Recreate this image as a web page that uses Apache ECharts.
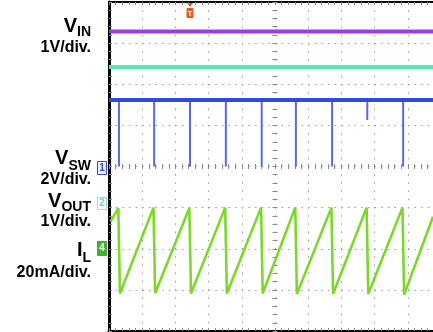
<!DOCTYPE html>
<html><head><meta charset="utf-8">
<script src="https://cdn.jsdelivr.net/npm/echarts@6/dist/echarts.min.js"></script>
<style>html,body{margin:0;padding:0;background:#fff}#c{width:433px;height:332px}</style>
</head><body><div id="c"></div>
<script>
// Time in divisions (0 = screen centre), amplitude in divisions (0 = centre line)
const xMin = -5, xMax = 4.76;
const yMin = -4, yMax = 4;
const vinLevel = 3.28;
const voutLevel = 2.42;
const vswHigh = 1.62;
const vswSpikeTimes = [-4.70, -3.64, -2.56, -1.48, -0.40, 0.63, 1.72, 2.78, 3.86];
const vswSpikeLows  = [0, 0, 0, 0, 0, 0, 0, 1.13, 0];
const ilStart = [-4.95, -1.34];
const ilPeakTimes   = [-4.72, -3.66, -2.58, -1.50, -0.42, 0.61, 1.70, 2.76, 3.84];
const ilTroughTimes = [-4.67, -3.61, -2.53, -1.45, -0.37, 0.66, 1.75, 2.81, 3.89];
const ilPeaks   = [-1.01, -1.00, -1.01, -1.00, -1.00, -1.00, -1.00, -1.00, -1.00];
const ilTroughs = [-3.09, -3.08, -3.09, -3.09, -3.09, -3.10, -3.10, -3.10, -3.12];
const ilEnd = [4.76, -1.22];

const channelMain = ['V', 'V', 'V', 'I'];
const channelSub = ['IN', 'SW', 'OUT', 'L'];
const channelScale = ['1V/div.', '2V/div.', '1V/div.', '20mA/div.'];
const markerLabels = ['1', '2', '4'];
const triggerLabel = 'T';

// build series data
const vswSpikeData = [];
vswSpikeTimes.forEach((t, i) => {
  vswSpikeData.push([t, vswHigh], [t, vswSpikeLows[i]], [t, vswHigh]);
});
const ilData = [ilStart];
ilPeakTimes.forEach((t, i) => {
  ilData.push([t, ilPeaks[i]], [ilTroughTimes[i], ilTroughs[i]]);
});
ilData.push(ilEnd);

const chart = echarts.init(document.getElementById('c'), null, {renderer: 'canvas'});

const FONT = 'Liberation Sans, Arial, sans-serif';
const cv = document.createElement('canvas').getContext('2d');
function tw(s, size) { cv.font = 'bold ' + size + 'px ' + FONT; return cv.measureText(s).width; }
function topFromBaseline(b, size) { return b - size * 0.85; }

const labelRight = 91;
const mainBase = [33, 165, 208, 257];
const subDrop = [4, 6, 4, 6];
const scaleBase = [53, 185, 227, 278];
const graphics = [];
for (let i = 0; i < 4; i++) {
  const sw = tw(channelSub[i], 14);
  graphics.push({type: 'text', x: labelRight - sw, y: topFromBaseline(mainBase[i], 20),
    style: {text: channelMain[i], font: 'bold 20px ' + FONT, fill: '#000', align: 'right', verticalAlign: 'top'}});
  graphics.push({type: 'text', x: labelRight, y: topFromBaseline(mainBase[i] + subDrop[i], 14),
    style: {text: channelSub[i], font: 'bold 14px ' + FONT, fill: '#000', align: 'right', verticalAlign: 'top'}});
  graphics.push({type: 'text', x: labelRight, y: topFromBaseline(scaleBase[i], 16),
    style: {text: channelScale[i], font: 'bold 16px ' + FONT, fill: '#000', align: 'right', verticalAlign: 'top'}});
}
// channel ground markers
const mk = [
  {y: 161, h: 13, stroke: '#3b4cc8', fill: '#eef0ff', color: '#3b4cc8'},
  {y: 197, h: 12, stroke: '#8fe3d6', fill: '#ffffff', color: '#6fcfc0'},
  {y: 241, h: 14, stroke: '#3cb52c', fill: '#3cb52c', color: '#ffffff'}
];
mk.forEach((m, i) => {
  graphics.push({type: 'rect', shape: {x: 97.5, y: m.y + 0.5, width: 9, height: m.h},
    style: {fill: m.fill, stroke: m.stroke, lineWidth: 1}});
  graphics.push({type: 'text', x: 102, y: m.y + 0.5 + m.h / 2,
    style: {text: markerLabels[i], font: 'bold 10px ' + FONT, fill: m.color, align: 'center', verticalAlign: 'middle'}});
});
// trigger marker
graphics.push({type: 'polygon', shape: {points: [[187, 3], [193, 3], [190, 7]]}, style: {fill: '#e8581c'}});
graphics.push({type: 'rect', shape: {x: 186.5, y: 8, width: 7, height: 10, r: 1}, style: {fill: '#e8581c'}});
graphics.push({type: 'text', x: 190, y: 13.5,
  style: {text: triggerLabel, font: 'bold 8px ' + FONT, fill: '#fff', align: 'center', verticalAlign: 'middle'}});

const tickStyle = {color: '#8a8a8a', width: 1};
function frameX(pos, lw) {
  return {type: 'value', min: xMin, max: xMax, interval: 1, position: pos,
    axisLine: {show: true, onZero: false, lineStyle: {color: '#000', width: lw}},
    axisTick: {show: true, inside: true, length: 3, lineStyle: tickStyle},
    minorTick: {show: true, splitNumber: 5, length: 3, lineStyle: tickStyle},
    axisLabel: {show: false}, splitLine: {show: false}};
}
function centreX(pos) {
  return {type: 'value', min: xMin, max: xMax, interval: 1, position: pos,
    axisLine: {show: false, onZero: true, onZeroAxisIndex: 0},
    axisTick: {show: true, inside: true, length: 2.5, lineStyle: tickStyle},
    minorTick: {show: true, splitNumber: 5, length: 2.5, lineStyle: tickStyle},
    axisLabel: {show: false}, splitLine: {show: false}};
}
function centreY(pos) {
  return {type: 'value', min: yMin, max: yMax, interval: 1, position: pos,
    axisLine: {show: false, onZero: true, onZeroAxisIndex: 0},
    axisTick: {show: true, inside: true, length: 2.5, lineStyle: tickStyle},
    minorTick: {show: true, splitNumber: 5, length: 2.5, lineStyle: tickStyle},
    axisLabel: {show: false}, splitLine: {show: false}};
}
const xMain = frameX('bottom', 3);
xMain.splitLine = {show: true, lineStyle: {color: '#9a9a9a', width: 1, type: [1.5, 6.7]}};
const yMain = {type: 'value', min: yMin, max: yMax, interval: 1, position: 'left',
  axisLine: {show: true, onZero: false, lineStyle: {color: '#000', width: 3}},
  axisTick: {show: true, inside: true, length: 3, lineStyle: tickStyle},
  minorTick: {show: true, splitNumber: 5, length: 3, lineStyle: tickStyle},
  axisLabel: {show: false},
  splitLine: {show: true, lineStyle: {color: '#9a9a9a', width: 1, type: [1.5, 5.14]}}};

function line(name, data, color, width, z) {
  return {name, type: 'line', data, xAxisIndex: 0, yAxisIndex: 0, symbol: 'none', silent: true,
    animation: false, z: z, lineStyle: {color, width}, itemStyle: {color}};
}

chart.setOption({
  animation: false,
  backgroundColor: '#ffffff',
  grid: {left: 109, right: 0, top: 2, bottom: 1, show: false},
  xAxis: [xMain, frameX('top', 2), centreX('bottom'), centreX('top')],
  yAxis: [yMain, centreY('left'), centreY('right')],
  graphic: graphics,
  series: [
    line('VIN', [[xMin, vinLevel], [xMax, vinLevel]], '#9a3ede', 4, 3),
    line('VOUT', [[xMin, voutLevel], [xMax, voutLevel]], '#55e8bd', 4, 3),
    line('VSW spikes', vswSpikeData, '#5a6ae6', 2, 3),
    line('VSW', [[xMin, vswHigh], [xMax, vswHigh]], '#2f4bde', 4, 4),
    line('IL', ilData, '#7cd82a', 2.6, 5)
  ]
});
</script></body></html>
